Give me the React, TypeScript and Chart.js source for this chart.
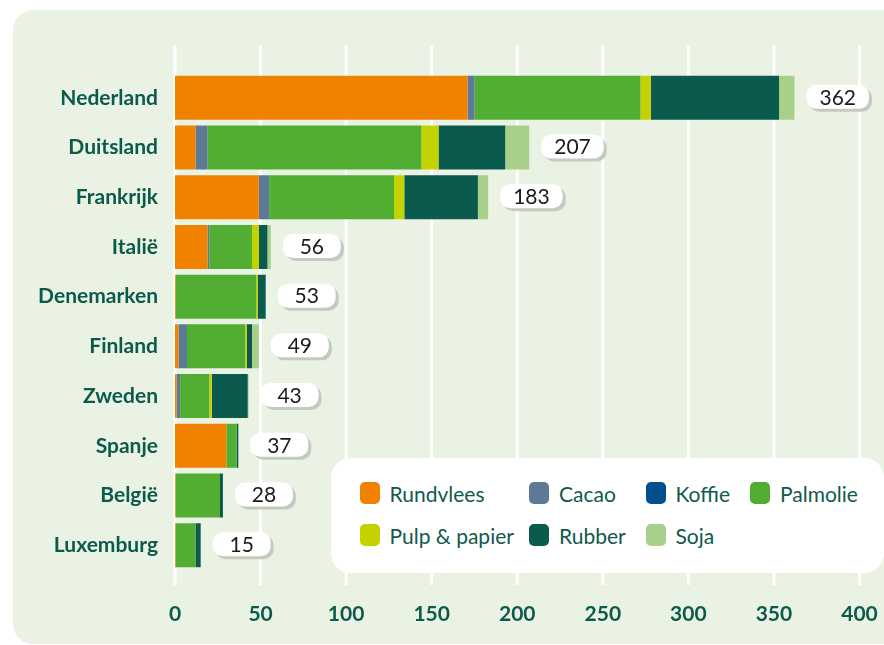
import React, { useEffect, useRef } from "react";
import { Chart, registerables } from "chart.js";

Chart.register(...registerables);

const categories = ["Nederland", "Duitsland", "Frankrijk", "Italië", "Denemarken", "Finland", "Zweden", "Spanje", "België", "Luxemburg"];
const seriesNames = ["Rundvlees", "Cacao", "Koffie", "Palmolie", "Pulp & papier", "Rubber", "Soja"];
const seriesColors = ["#F08200", "#5C7A96", "#00508F", "#52AE32", "#C4D200", "#0A5A4E", "#A8D08A"];

const rundvlees = [171, 12, 49, 19, 0.5, 2, 1, 30, 0.3, 0.3];
const cacao = [4, 7, 6, 1, 0, 5, 2, 0, 0, 0];
const koffie = [0, 0, 0, 0, 0, 0, 0, 0, 0, 0];
const palmolie = [97, 125, 73, 25, 47, 34, 17, 6, 26, 11.7];
const pulp = [6, 10, 6, 4, 1, 1, 1.5, 0, 0, 0];
const rubber = [75, 39, 43, 5, 4.5, 3, 21, 1, 1.7, 3];
const soja = [9, 14, 6, 2, 0, 4, 0.5, 0, 0, 0];

const seriesValues = [rundvlees, cacao, koffie, palmolie, pulp, rubber, soja];
const xTicks = [0, 50, 100, 150, 200, 250, 300, 350, 400];

const TEXT = "#0B5A4C";
const FONT = "Lato, 'Noto Sans', sans-serif";

const gridPlugin = {
  id: "customGrid",
  beforeDatasetsDraw(chart: any) {
    const { ctx, scales } = chart;
    const x = scales.x;
    ctx.save();
    ctx.strokeStyle = "#FFFFFF";
    ctx.lineWidth = 3;
    xTicks.forEach((v) => {
      const px = x.getPixelForValue(v);
      ctx.beginPath();
      ctx.moveTo(px, 45);
      ctx.lineTo(px, 585);
      ctx.stroke();
    });
    ctx.restore();
  },
};

function roundRect(ctx: CanvasRenderingContext2D, x: number, y: number, w: number, h: number, r: number) {
  ctx.beginPath();
  ctx.moveTo(x + r, y);
  ctx.lineTo(x + w - r, y);
  ctx.arcTo(x + w, y, x + w, y + r, r);
  ctx.lineTo(x + w, y + h - r);
  ctx.arcTo(x + w, y + h, x + w - r, y + h, r);
  ctx.lineTo(x + r, y + h);
  ctx.arcTo(x, y + h, x, y + h - r, r);
  ctx.lineTo(x, y + r);
  ctx.arcTo(x, y, x + r, y, r);
  ctx.closePath();
}

const totalsPlugin = {
  id: "totals",
  afterDatasetsDraw(chart: any) {
    const { ctx, scales } = chart;
    const x = scales.x;
    const y = scales.y;
    ctx.save();
    ctx.font = `21px ${FONT}`;
    categories.forEach((_, i) => {
      const total = seriesValues.reduce((s, arr) => s + arr[i], 0);
      const label = String(Math.round(total));
      const end = x.getPixelForValue(total);
      const cy = y.getPixelForValue(i) - 1;
      const tw = ctx.measureText(label).width;
      const w = Math.max(58, tw + 26);
      const h = 24;
      const left = end + 12;
      ctx.fillStyle = "#C3CABF";
      roundRect(ctx, left + 3, cy - h / 2 + 3, w, h, 10);
      ctx.fill();
      ctx.fillStyle = "#FFFFFF";
      roundRect(ctx, left, cy - h / 2, w, h, 10);
      ctx.fill();
      ctx.fillStyle = "#1A1A1A";
      ctx.textAlign = "center";
      ctx.textBaseline = "middle";
      ctx.fillText(label, left + w / 2, cy + 1);
    });
    ctx.restore();
  },
};

export default function App() {
  const canvasRef = useRef<HTMLCanvasElement | null>(null);

  useEffect(() => {
    if (!canvasRef.current) return;
    const chart = new Chart(canvasRef.current, {
      type: "bar",
      data: {
        labels: categories,
        datasets: seriesNames.map((name, k) => ({
          label: name,
          data: seriesValues[k],
          backgroundColor: seriesColors[k],
          borderWidth: 0,
          barPercentage: 0.885,
          categoryPercentage: 1,
        })),
      },
      options: {
        indexAxis: "y",
        responsive: false,
        devicePixelRatio: 1,
        animation: false,
        layout: { padding: { top: 73, right: 24.5, left: 0, bottom: 0 } },
        plugins: {
          legend: { display: false },
          tooltip: { enabled: false },
        },
        scales: {
          x: {
            stacked: true,
            min: 0,
            max: 400,
            afterBuildTicks: (scale: any) => {
              scale.ticks = xTicks.map((v) => ({ value: v }));
            },
            afterFit: (scale: any) => {
              scale.height = 75;
            },
            grid: { display: false, drawTicks: true, tickLength: 32 },
            border: { display: false },
            ticks: {
              color: TEXT,
              padding: 0,
              font: { family: FONT, size: 21, weight: "bold" },
              maxRotation: 0,
            },
          },
          y: {
            stacked: true,
            afterFit: (scale: any) => {
              scale.width = 175;
            },
            grid: { display: false, drawTicks: false },
            border: { display: false },
            ticks: {
              color: TEXT,
              padding: 17,
              font: { family: FONT, size: 21, weight: "bold" },
            },
          },
        },
      },
      plugins: [gridPlugin, totalsPlugin],
    } as any);
    return () => chart.destroy();
  }, []);

  return (
    <div style={{ position: "fixed", left: 0, top: 0, width: 884, height: 645, overflow: "hidden", background: "#FFFFFF" }}>
      <div
        style={{
          position: "absolute",
          left: 13,
          top: 10,
          width: 900,
          height: 634,
          borderRadius: 20,
          background: "#EAF2E3",
        }}
      />
      <canvas
        ref={canvasRef}
        width={884}
        height={645}
        style={{ position: "absolute", left: 0, top: 0, width: 884, height: 645 }}
      />
      <div
        style={{
          position: "absolute",
          left: 331,
          top: 458,
          width: 553,
          height: 115,
          borderRadius: 20,
          background: "#FFFFFF",
          boxSizing: "border-box",
          paddingLeft: 28.5,
          paddingTop: 24,
          display: "grid",
          gridTemplateColumns: "169.5px 116.5px 104.5px auto",
          gridAutoRows: "42px",
          fontFamily: FONT,
          fontSize: 21,
          color: "#11594D",
        }}
      >
        {seriesNames.map((name, k) => (
          <div key={name} style={{ display: "flex", alignItems: "center", height: 22, whiteSpace: "nowrap" }}>
            <span
              style={{
                display: "inline-block",
                width: 20,
                height: 22,
                borderRadius: 5,
                background: seriesColors[k],
                marginRight: 10,
                flex: "none",
              }}
            />
            <span>{name}</span>
          </div>
        ))}
      </div>
    </div>
  );
}
